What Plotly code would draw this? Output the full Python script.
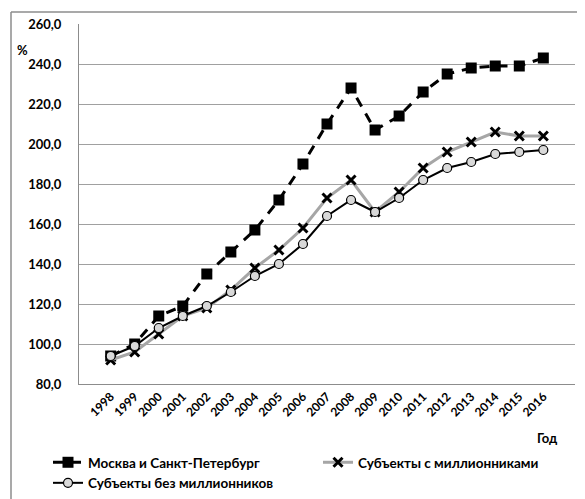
import plotly.graph_objects as go

years = [str(y) for y in range(1998, 2017)]
moscow_spb = [94, 100, 114, 119, 135, 146, 157, 172, 190, 210, 228, 207, 214, 226, 235, 238, 239, 239, 243]
with_millionaires = [92, 96, 105, 114, 118, 127, 138, 147, 158, 173, 182, 166, 176, 188, 196, 201, 206, 204, 204]
without_millionaires = [94, 99, 108, 114, 119, 126, 134, 140, 150, 164, 172, 166, 173, 182, 188, 191, 195, 196, 197]
y_ticks = [80, 100, 120, 140, 160, 180, 200, 220, 240, 260]

FONT = "Lato"
OFF = 8  # page body margin
W, H = 585 - OFF, 499 - OFF
L, T, PW, PH = 79 - OFF, 24 - OFF, 496, 360


def px(x):
    return (x - OFF - L) / PW


def py(y):
    return (T + PH - (y - OFF)) / PH


fig = go.Figure()
fig.add_trace(go.Scatter(
    x=years, y=moscow_spb, name="Москва и Санкт-Петербург",
    mode="lines+markers",
    line=dict(color="black", width=3, dash="10px,8px"),
    marker=dict(symbol="square", size=11, color="black"),
))
fig.add_trace(go.Scatter(
    x=years, y=with_millionaires, name="Субъекты с миллионниками",
    mode="lines+markers",
    line=dict(color="#a6a6a6", width=3),
    marker=dict(symbol="x-thin", size=9, color="black", line=dict(color="black", width=3)),
))
fig.add_trace(go.Scatter(
    x=years, y=without_millionaires, name="Субъекты без миллионников",
    mode="lines+markers",
    line=dict(color="black", width=2),
    marker=dict(symbol="circle", size=9, color="#d9d9d9", line=dict(color="black", width=1.2)),
))

border = "#8c8c8c"
fig.update_layout(
    width=W, height=H,
    margin=dict(l=L, r=W - L - PW, t=T, b=H - T - PH, autoexpand=False),
    paper_bgcolor="white", plot_bgcolor="white",
    separators=", ",
    font=dict(family=FONT, size=13, color="black"),
    showlegend=True,
    legend=dict(
        orientation="h",
        x=px(48), y=py(447), xanchor="left", yanchor="top",
        entrywidth=225, entrywidthmode="pixels",
        font=dict(family=FONT, size=13.5, color="black", weight="bold"),
        tracegroupgap=0, itemwidth=30, bgcolor="rgba(0,0,0,0)",
    ),
    xaxis=dict(
        type="category", tickangle=-45, showgrid=False,
        showline=True, linecolor=border, linewidth=1,
        ticks="", tickfont=dict(family=FONT, size=12, weight="bold"),
    ),
    yaxis=dict(
        range=[80, 260], tickvals=y_ticks, tickformat=".1f",
        showgrid=True, gridcolor="#a0a0a0", gridwidth=1,
        showline=True, linecolor=border, linewidth=1,
        ticks="", ticklabelstandoff=14,
        tickfont=dict(family=FONT, size=13, weight="bold"),
        zeroline=False,
    ),
    shapes=[
        dict(type="line", xref="paper", yref="paper",
             x0=px(11), x1=px(585), y0=py(12), y1=py(12),
             line=dict(color=border, width=1.5)),
        dict(type="line", xref="paper", yref="paper",
             x0=px(11), x1=px(11), y0=py(12), y1=py(499),
             line=dict(color=border, width=1.5)),
    ],
    annotations=[
        dict(text="%", xref="paper", yref="paper", x=px(22), y=py(50),
             showarrow=False, font=dict(family=FONT, size=13, weight="bold"),
             xanchor="center", yanchor="middle"),
        dict(text="Год", xref="paper", yref="paper", x=px(547), y=py(438),
             showarrow=False, font=dict(family=FONT, size=13, weight="bold"),
             xanchor="center", yanchor="middle"),
    ],
)

fig.write_html("out.html")
